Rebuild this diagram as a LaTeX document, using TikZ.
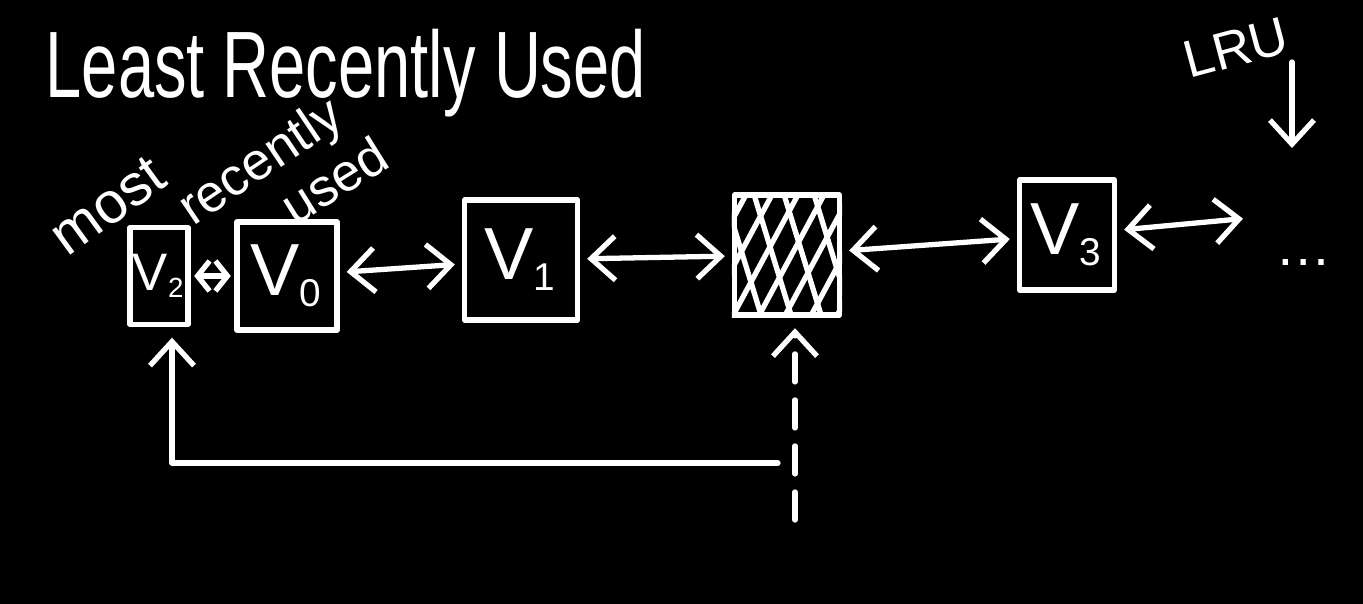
\documentclass[tikz,border=0pt]{standalone}
\usepackage{fontspec}
\setmainfont{Liberation Sans}
\usetikzlibrary{arrows.meta}
\newcommand{\vsub}[1]{V\textsubscript{\scalebox{0.75}{#1}}}
\tikzset{%
    chalk/.style={draw=white, line width=1.5pt, line cap=round, line join=round},
    cell/.style={chalk, rectangle, inner sep=0pt, text=white},
    link/.style={chalk, {Straight Barb[length=2.4mm,width=4.4mm]}-{Straight Barb[length=2.4mm,width=4.4mm]}, shorten <=2pt, shorten >=2pt},
    short link/.style={chalk, {Straight Barb[length=1.2mm,width=3mm]}-{Straight Barb[length=1.2mm,width=3mm]}, shorten <=1pt, shorten >=1pt},
    pointer/.style={chalk, -{Straight Barb[length=2.4mm,width=4.4mm]}},
    scrawl/.style={text=white, inner sep=0pt}
}

\begin{document}
\begin{tikzpicture}[x=0.01cm, y=-0.01cm]
    \fill[black] (0,0) rectangle (1363,604);
    % headings
    \node[scrawl, anchor=base west, font=\fontsize{18.5}{22}\selectfont] (title) at (45,98) {\scalebox{1}[1.45]{Least Recently Used}};
    \node[scrawl, rotate=36, font=\fontsize{16.5}{18}\selectfont] (most) at (108,206) {most};
    \node[scrawl, rotate=34, font=\fontsize{15}{17}\selectfont] (recent) at (262,164) {recently};
    \node[scrawl, rotate=32, font=\fontsize{15}{17}\selectfont] (used) at (334,180) {used};
    \node[scrawl, rotate=15, font=\fontsize{15}{17}\selectfont] (lru) at (1236,48) {LRU};
    % list cells
    \foreach \name/\x/\y/\w/\h/\fs/\lab in {v2/159/276/0.58/0.97/15/\vsub{2}, v0/287/276/1.0/1.08/21/\vsub{0}, v1/521/260/1.13/1.2/21/\vsub{1}, old/787/255/1.05/1.2/21/{}, v3/1067/235/0.95/1.1/21/\vsub{3}}
    {
    \node[cell, minimum width=\w cm, minimum height=\h cm, font=\fontsize{\fs}{\fs}\selectfont] (\name) at (\x,\y) {\lab};
    }
    \begin{scope}
    \clip (old.south west) rectangle (old.north east);
    \foreach \k in {-2,...,4}
    {
    \draw[chalk] ([xshift=\k*0.26cm]old.south west) -- ++(70,-130);
    }
    \foreach \k in {1,...,4}
    {
    \draw[chalk] ([xshift=\k*0.3cm]old.south west) -- ++(-40,-130);
    }
    \end{scope}
    \node[scrawl, font=\fontsize{16}{16}\selectfont] (dots) at (1304,262) {\dots};
    % links
    \draw[short link] (v2) -- (v0);
    \foreach \a/\b in {v0/v1, v1/old, old/v3}
    {
    \draw[link] (\a) -- (\b);
    }
    \coordinate (tail) at (1250,218);
    \draw[link] (v3) -- (tail);
    \coordinate (lrufrom) at (1292,62);
    \coordinate (lruto) at (1292,148);
    \draw[pointer] (lrufrom) -- (lruto);
    \coordinate (probe) at (795,520);
    \draw[pointer, dash pattern=on 0.28cm off 0.18cm, shorten >=3pt] (probe) -- (probe |- old.south);
    \coordinate (bend) at (778,463);
    \draw[pointer, shorten >=3pt] (bend) -| ([xshift=0.13cm]v2.south);
\end{tikzpicture}
\end{document}
